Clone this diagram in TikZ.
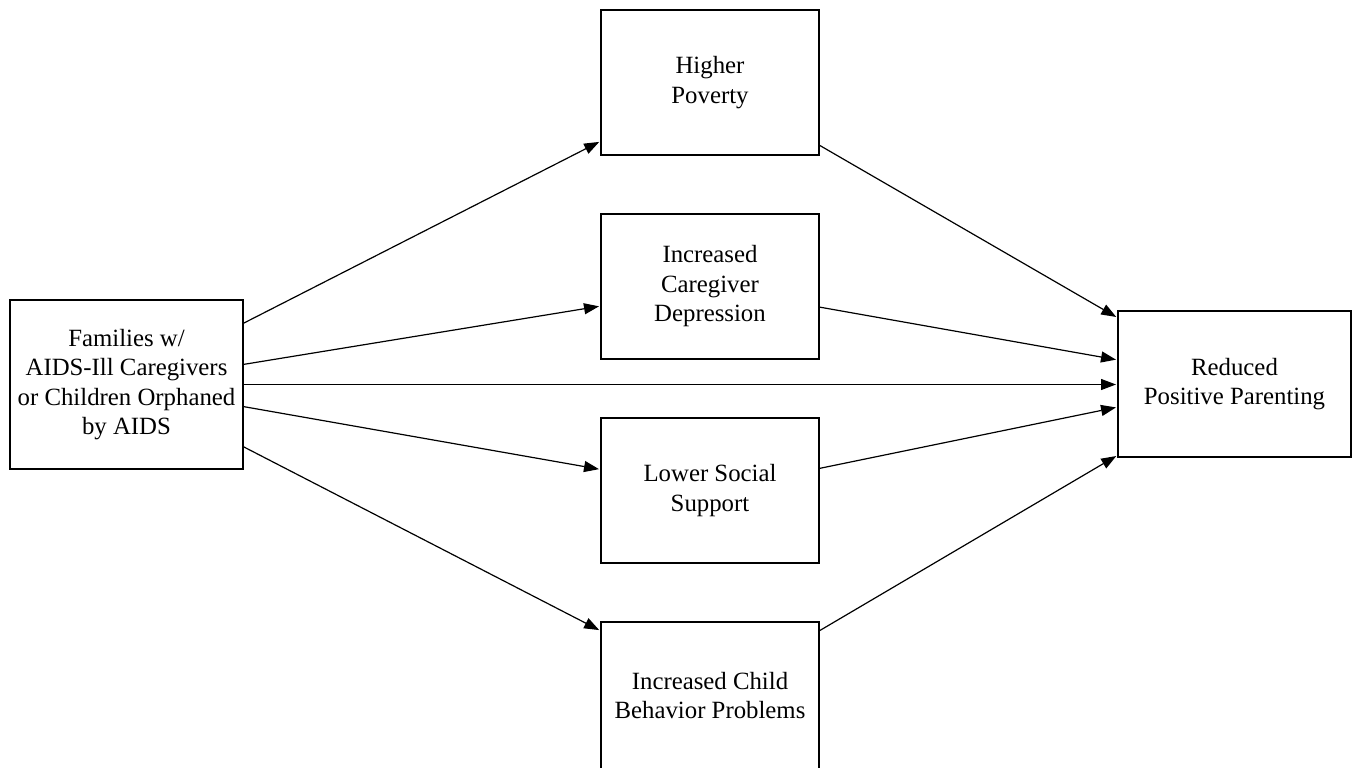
\documentclass[tikz,border=0pt]{standalone}
\usepackage{fontspec}
\setmainfont{Liberation Serif}
\usepackage{tikz}
\usetikzlibrary{arrows.meta,positioning}
\tikzset{
    %Define standard arrow tip
    >={Triangle[length=15pt,width=11pt]},
    %Define style for boxes
    pathbox/.style={
           rectangle,
           draw=black, line width=1.3pt,
           outer sep=0pt,
           minimum width=218pt,
           minimum height=145pt,
           align=center,
           font=\fontsize{24.8}{29.5}\selectfont},
    endbox/.style={
           pathbox,
           minimum width=233pt},
    % Define arrow style
    pil/.style={
           ->,
           line width=1.2pt,
           shorten >=2pt}
}
\begin{document}
\begin{tikzpicture}[x=1pt,y=1pt,node distance=59pt]
\useasboundingbox (0,0) rectangle (1358,-768);
\node[endbox, minimum height=169pt, anchor=north west](fam) at (10,-300)
    {Families w/\\AIDS-Ill Caregivers\\or Children Orphaned\\by AIDS};
\node[pathbox, anchor=north west](pov) at (601,-10){Higher\\Poverty};
\node[pathbox, below=of pov](dep){Increased\\Caregiver\\Depression};
\node[pathbox, below=of dep](sup){Lower Social\\Support};
\node[pathbox, below=of sup, minimum height=147pt](beh){Increased Child\\Behavior Problems};
\node[endbox, minimum height=146pt, anchor=west](par) at (1118,-384){Reduced\\Positive Parenting};
 \path[pil]
    ([yshift=61pt]fam.east) edge ([yshift=-58.5pt]pov.west)
    ([yshift=20pt]fam.east) edge ([yshift=-19.5pt]dep.west)
    (fam.east) edge ([yshift=-0.5pt]par.west)
    ([yshift=-22pt]fam.east) edge ([yshift=21pt]sup.west)
    ([yshift=-62pt]fam.east) edge ([yshift=64.5pt]beh.west)
    ([yshift=-62.5pt]pov.east) edge ([yshift=66pt]par.west)
    ([yshift=-20.5pt]dep.east) edge ([yshift=24pt]par.west)
    ([yshift=22pt]sup.east) edge ([yshift=-23pt]par.west)
    ([yshift=64.5pt]beh.east) edge ([yshift=-71pt]par.west);
\end{tikzpicture}
\end{document}
